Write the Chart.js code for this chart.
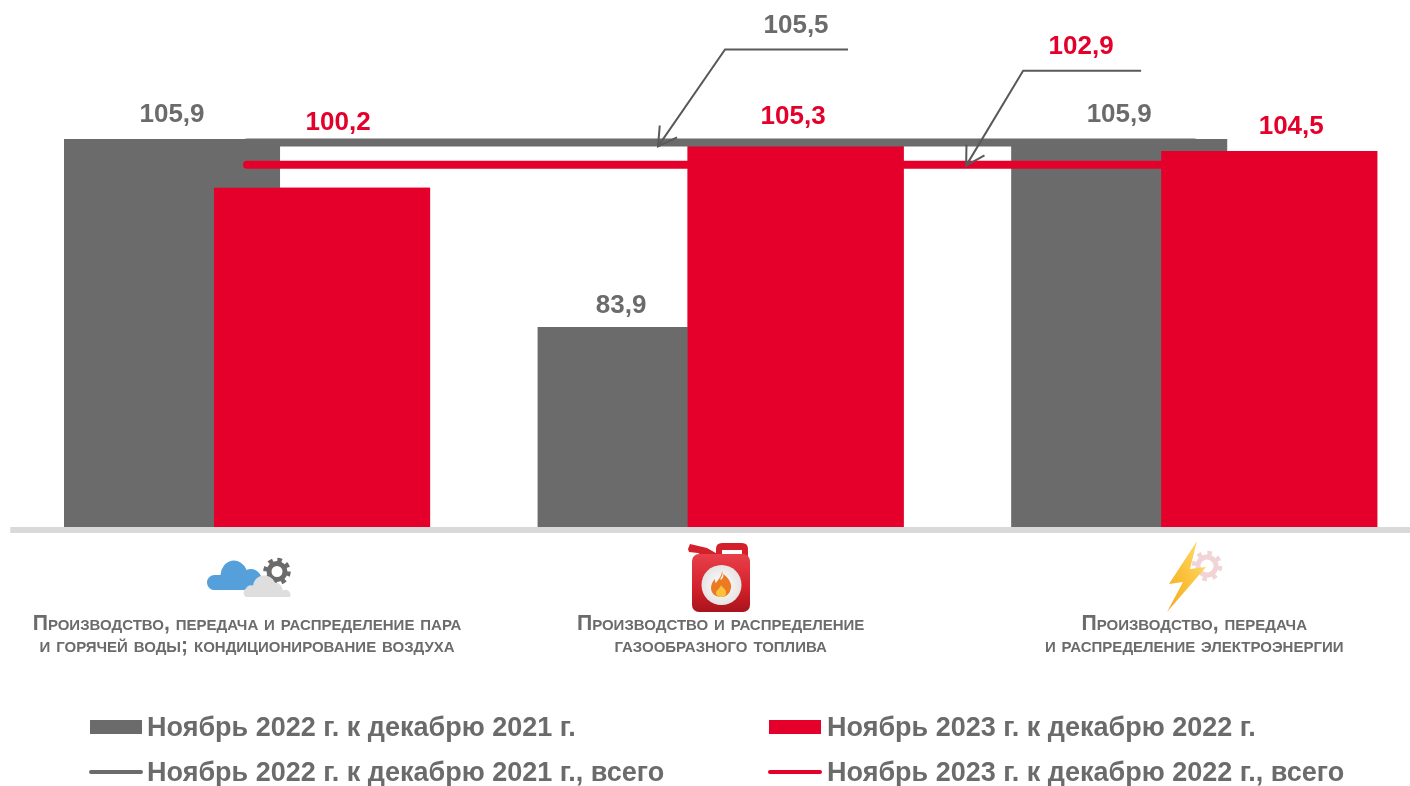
<!DOCTYPE html>
<html lang="ru">
<head>
<meta charset="utf-8">
<title>Индексы производства</title>
<script src="https://cdn.jsdelivr.net/npm/chart.js@4"></script>
<style>
html,body{margin:0;padding:0;background:#fff;width:1410px;height:786px;overflow:hidden}
#wrap{position:relative;width:1410px;height:786px;overflow:hidden}
canvas{position:absolute;left:0;top:0}
svg{position:absolute;left:0;top:0;pointer-events:none}
.lg{position:absolute;font:bold 27px "Liberation Sans",Arial,sans-serif;color:#6b6b6b;white-space:nowrap;line-height:30px}
.sw{position:absolute}
</style>
</head>
<body>
<div id="wrap">
<canvas id="c" width="1431" height="786"></canvas>
<svg width="1410" height="786" viewBox="0 0 1410 786">
  <defs>
    <linearGradient id="can" x1="0" y1="0" x2="0" y2="1"><stop offset="0" stop-color="#e8404a"/><stop offset="0.6" stop-color="#d3202b"/><stop offset="1" stop-color="#a8141c"/></linearGradient>
    <linearGradient id="bolt" x1="1" y1="0" x2="0" y2="1"><stop offset="0" stop-color="#ffe27a"/><stop offset="0.5" stop-color="#fbc23c"/><stop offset="1" stop-color="#f5a81f"/></linearGradient>
    <radialGradient id="disc"><stop offset="0" stop-color="#ffffff"/><stop offset="1" stop-color="#e6e3e3"/></radialGradient>
  </defs>
  <!-- cloud icon -->
  <circle cx="277" cy="571.5" r="8" fill="none" stroke="#6b6b6b" stroke-width="5"/>
  <circle cx="277" cy="571.5" r="11.5" fill="none" stroke="#6b6b6b" stroke-width="4.500" stroke-dasharray="4.500 4.530"/>
  <path d="M215 590a7.5 7.5 0 0 1 -1 -15h6.500a13.500 15 0 0 1 26 -5a11 11 0 0 1 15 12l-8 8z" fill="#55a0da"/>
  <path d="M246 597a5 5 0 0 1 0 -8.500a6 6 0 0 1 7 -3a11.500 11.500 0 0 1 22 -3a9 9 0 0 1 8 8a5 5 0 0 1 7 6.500z" fill="#dedede"/>
  <!-- canister icon -->
  <path d="M688 549l2 -5l17 4l14 8h-18l-5 -3l-9 -1z" fill="#d3202b"/>
  <path d="M716 557v-8q0 -6 6 -6h20q6 0 6 6v8h-6v-7h-20v7z" fill="#d3202b"/>
  <rect x="692" y="554" width="58" height="58" rx="7" fill="url(#can)"/>
  <circle cx="721.500" cy="585" r="20" fill="url(#disc)"/>
  <path d="M722 571c2 5 -3 7 -1 9c2 -2 3 -4 2 -6c5 3 9 9 8 14c-1 6 -5 9 -10 9c-6 0 -10 -4 -10 -9c0 -4 2 -7 4 -9c0 2 0 3 1 4c2 -3 6 -7 6 -12z" fill="#ec7a22"/>
  <path d="M721 585c1 3 5 3 5 8c0 3 -2 4 -5 4c-3 0 -5 -2 -5 -4c0 -3 4 -4 5 -8z" fill="#fbc23c"/>
  <!-- lightning icon -->
  <circle cx="1207" cy="566" r="9" fill="none" stroke="#f0d4d6" stroke-width="5"/>
  <circle cx="1207" cy="566" r="13" fill="none" stroke="#f0d4d6" stroke-width="4.500" stroke-dasharray="4.500 5.700"/>
  <path d="M1197 541L1169 584L1183 582L1167 612L1206 567L1190 569Z" fill="url(#bolt)"/>
</svg>
<div id="legend"></div>
</div>
<script>
const categories = [
  ["Производство, передача и распределение пара", "и горячей воды; кондиционирование воздуха"],
  ["Производство и распределение", "газообразного топлива"],
  ["Производство, передача", "и распределение электроэнергии"]
];
const series2022 = [105.9, 83.9, 105.9];
const series2023 = [100.2, 105.3, 104.5];
const total2022 = [105.5, 105.5, 105.5];
const total2023 = [102.9, 102.9, 102.9];
const legendNames = [
  "Ноябрь 2022 г. к декабрю 2021 г.",
  "Ноябрь 2023 г. к декабрю 2022 г.",
  "Ноябрь 2022 г. к декабрю 2021 г., всего",
  "Ноябрь 2023 г. к декабрю 2022 г., всего"
];

const GREY = "#6b6b6b", RED = "#e4002b", FONT = '"Liberation Sans", Arial, sans-serif';
const fmt = v => v.toFixed(1).replace(".", ",");

// label offsets from the top of each bar (pixels)
const labelOffsets = [
  [[0, -24], [-24.5, -21], [0, -24]],
  [[16, -65], [-2.5, -27], [22, -24]]
];
// callouts: dataset, tip offset from category, elbow and end offsets from the tip, label offset
const callouts = [
  {ds: 2, cat: 0, tipDx: 411, tipDy: 4, elbow: [67, -97], end: [190, -97], label: [138, -121], color: GREY},
  {ds: 3, cat: 1, tipDx: 245.5, tipDy: 1, elbow: [57, -95], end: [175, -95], label: [115, -118.5], color: RED}
];

const overlay = {
  id: "overlay",
  afterDatasetDraw(chart, args) {
    // the red bars sit on top of the grey ones
    if (args.index === 0) {
      const a = chart.chartArea, ctx = chart.ctx;
      ctx.save();
      ctx.beginPath();
      ctx.rect(a.left, a.top, a.right - a.left, a.bottom - a.top);
      ctx.clip();
      chart.getDatasetMeta(1).controller.draw();
      ctx.restore();
    }
  },
  afterDatasetsDraw(chart) {
    const {ctx, chartArea, scales: {x, y}} = chart;
    ctx.save();
    // axis line
    ctx.fillStyle = "#d9d9d9";
    ctx.fillRect(chartArea.left, chartArea.bottom - 3, chartArea.right - chartArea.left, 6);
    ctx.textAlign = "center";
    ctx.textBaseline = "middle";
    ctx.font = "bold 26px " + FONT;
    [0, 1].forEach(d => {
      chart.getDatasetMeta(d).data.forEach((bar, i) => {
        const off = labelOffsets[d][i];
        ctx.fillStyle = d === 0 ? GREY : RED;
        ctx.fillText(fmt(chart.data.datasets[d].data[i]), bar.x + off[0], bar.y + off[1]);
      });
    });
    callouts.forEach(c => {
      const value = chart.data.datasets[c.ds].data[c.cat];
      const tx = x.getPixelForValue(c.cat) + c.tipDx, ty = y.getPixelForValue(value) + c.tipDy;
      ctx.strokeStyle = "#595959";
      ctx.lineWidth = 2;
      ctx.lineJoin = "miter";
      ctx.beginPath();
      ctx.moveTo(tx + c.end[0], ty + c.end[1]);
      ctx.lineTo(tx + c.elbow[0], ty + c.elbow[1]);
      ctx.lineTo(tx, ty);
      ctx.stroke();
      const a = Math.atan2(c.elbow[1], c.elbow[0]), L = 21, s = Math.PI / 6;
      ctx.beginPath();
      ctx.moveTo(tx + L * Math.cos(a - s), ty + L * Math.sin(a - s));
      ctx.lineTo(tx, ty);
      ctx.lineTo(tx + L * Math.cos(a + s), ty + L * Math.sin(a + s));
      ctx.stroke();
      ctx.fillStyle = c.color;
      ctx.fillText(fmt(value), tx + c.label[0], ty + c.label[1]);
    });
    ctx.restore();
  }
};

const chart = new Chart(document.getElementById("c"), {
  data: {
    labels: categories,
    datasets: [
      {type: "bar", label: legendNames[0], data: series2022, backgroundColor: GREY, order: 1,
       categoryPercentage: 0.6336, barPercentage: 1.44},
      {type: "bar", label: legendNames[1], data: series2023, backgroundColor: RED, order: 1,
       categoryPercentage: 0.6336, barPercentage: 1.44},
      {type: "line", label: legendNames[2], data: total2022, borderColor: GREY, borderWidth: 8,
       borderCapStyle: "round", pointRadius: 0, tension: 0, order: 0},
      {type: "line", label: legendNames[3], data: total2023, borderColor: RED, borderWidth: 8,
       borderCapStyle: "round", pointRadius: 0, tension: 0, order: -1}
    ]
  },
  options: {
    responsive: false,
    animation: false,
    events: [],
    layout: {autoPadding: false, padding: {left: 10.25, right: 0, top: 0, bottom: 0}},
    plugins: {legend: {display: false}, tooltip: {enabled: false}},
    scales: {
      x: {
        type: "category",
        offset: true,
        grid: {display: false},
        border: {display: false},
        ticks: {
          autoSkip: false, maxRotation: 0, minRotation: 0, padding: 75.5, color: GREY,
          font: {family: FONT, size: 21.2, weight: "small-caps bold", lineHeight: 1.04}
        },
        afterFit(scale) { scale.height = 256; scale.paddingLeft = 0; scale.paddingRight = 0; }
      },
      y: {display: false, min: 60.143, max: 122.167}
    }
  },
  plugins: [overlay]
});

// legend built from the chart's datasets
const legendPlaces = [
  {sw: [90, 720, 52, 14], text: [147, 712]},
  {sw: [769, 720, 52, 14], text: [827, 712]},
  {sw: [89, 769.5, 54, 4.5], text: [147, 757]},
  {sw: [768, 769.5, 54, 4.5], text: [827, 757]}
];
const legendEl = document.getElementById("legend");
chart.data.datasets.forEach((ds, i) => {
  const p = legendPlaces[i], isLine = ds.type === "line";
  const s = document.createElement("div");
  s.className = "sw";
  s.style.cssText = `left:${p.sw[0]}px;top:${p.sw[1]}px;width:${p.sw[2]}px;height:${p.sw[3]}px;background:${isLine ? ds.borderColor : ds.backgroundColor};border-radius:${isLine ? 3 : 0}px`;
  const t = document.createElement("div");
  t.className = "lg";
  t.style.left = p.text[0] + "px";
  t.style.top = p.text[1] + "px";
  t.textContent = ds.label;
  legendEl.append(s, t);
});
</script>
</body>
</html>
